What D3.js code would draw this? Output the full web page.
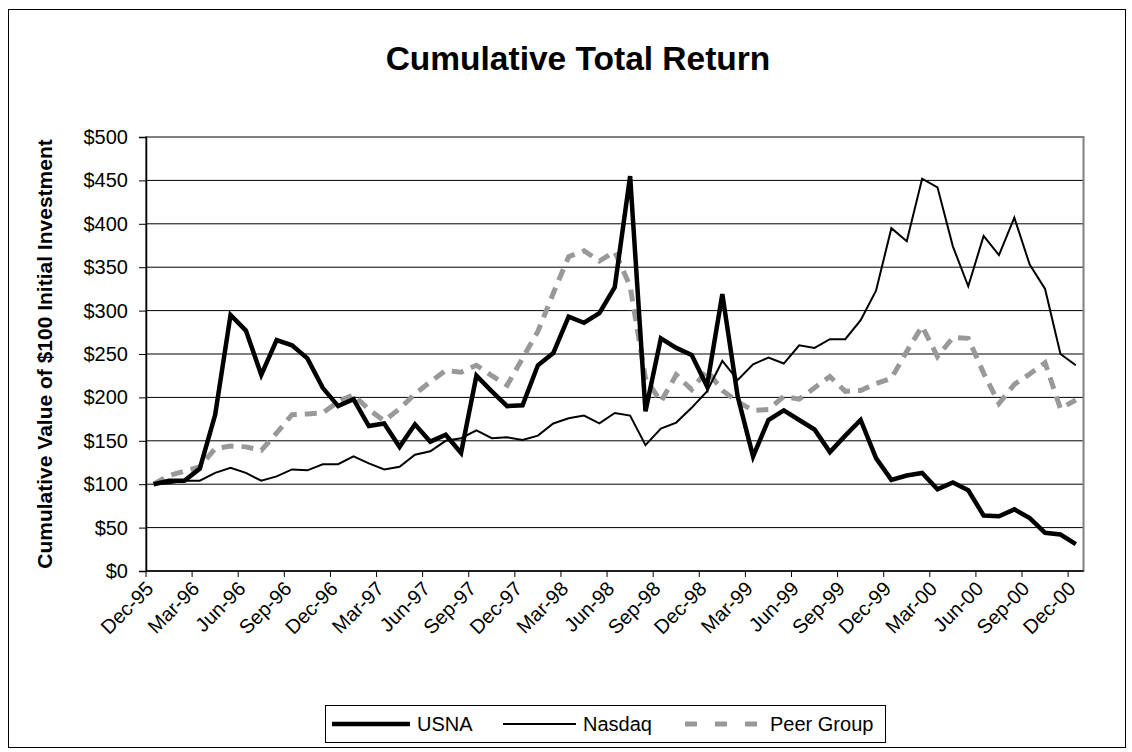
<!DOCTYPE html>
<html>
<head>
<meta charset="utf-8">
<script src="https://cdn.jsdelivr.net/npm/d3@7"></script>
<style>
  html, body { margin: 0; padding: 0; background: #fff; }
  svg { display: block; font-family: 'Liberation Sans', Arial, sans-serif; }
</style>
</head>
<body>
<svg id="chart" width="1132" height="752"></svg>
<script>
// Month categories (Dec-95 .. Dec-00)
const months = [
  'Dec-95',
  'Jan-96', 'Feb-96', 'Mar-96', 'Apr-96', 'May-96', 'Jun-96', 'Jul-96', 'Aug-96', 'Sep-96', 'Oct-96', 'Nov-96', 'Dec-96',
  'Jan-97', 'Feb-97', 'Mar-97', 'Apr-97', 'May-97', 'Jun-97', 'Jul-97', 'Aug-97', 'Sep-97', 'Oct-97', 'Nov-97', 'Dec-97',
  'Jan-98', 'Feb-98', 'Mar-98', 'Apr-98', 'May-98', 'Jun-98', 'Jul-98', 'Aug-98', 'Sep-98', 'Oct-98', 'Nov-98', 'Dec-98',
  'Jan-99', 'Feb-99', 'Mar-99', 'Apr-99', 'May-99', 'Jun-99', 'Jul-99', 'Aug-99', 'Sep-99', 'Oct-99', 'Nov-99', 'Dec-99',
  'Jan-00', 'Feb-00', 'Mar-00', 'Apr-00', 'May-00', 'Jun-00', 'Jul-00', 'Aug-00', 'Sep-00', 'Oct-00', 'Nov-00', 'Dec-00'
];

// Series values
const usna = [
  100, 104, 104, 118, 180, 295, 277, 226, 266, 260,
  245, 211, 190, 198, 167, 170, 143, 169, 149, 157,
  136, 225, 207, 190, 191, 237, 251, 293, 286, 297,
  327, 455, 184, 268, 257, 249, 213, 319, 201, 132,
  174, 185, 174, 163, 137, 156, 174, 130, 105, 110,
  113, 94, 102, 93, 64, 63, 71, 61, 44, 42, 31
];
const nasdaq = [
  100, 101, 104, 104, 113, 119, 113, 104, 109, 117,
  116, 123, 123, 132, 124, 117, 120, 134, 138, 150,
  153, 162, 153, 154, 151, 156, 170, 176, 179, 170,
  182, 179, 145, 164, 171, 188, 207, 242, 220, 238,
  246, 239, 260, 257, 267, 267, 289, 323, 395, 380,
  452, 442, 374, 328, 386, 364, 407, 353, 325, 250, 237
];
const peer = [
  100, 110, 115, 120, 141, 144, 143, 139, 159, 180,
  181, 182, 195, 203, 186, 173, 187, 204, 218, 231,
  229, 237, 225, 214, 245, 276, 320, 362, 369, 357,
  368, 328, 222, 195, 226, 209, 231, 208, 195, 185,
  186, 201, 198, 211, 224, 207, 208, 216, 222, 253,
  282, 247, 269, 268, 228, 193, 215, 227, 240, 187, 197
];

const yTicks = [0, 50, 100, 150, 200, 250, 300, 350, 400, 450, 500];

const series = [
  { name: 'USNA', values: usna, color: '#000', width: 4.5, dash: null, legendDash: null },
  { name: 'Nasdaq', values: nasdaq, color: '#000', width: 2, dash: null, legendDash: null },
  { name: 'Peer Group', values: peer, color: '#999', width: 5, dash: '12,8', legendDash: '12,18' }
];

const svg = d3.select('#chart');

// Outer chart frame
svg.append('rect')
  .attr('x', 8.5)
  .attr('y', 9.5)
  .attr('width', 1117)
  .attr('height', 738)
  .attr('fill', '#fff')
  .attr('stroke', '#000')
  .attr('stroke-width', 1);

// Plot area
const plot = { left: 146, right: 1083.5, top: 137, bottom: 571 };

const x = d3.scaleBand()
  .domain(months)
  .range([plot.left, plot.right])
  .padding(0);

const y = d3.scaleLinear()
  .domain([0, 500])
  .range([plot.bottom, plot.top]);

const cx = (m) => x(m) + x.bandwidth() / 2;

// Gridlines
svg.append('g')
  .selectAll('line')
  .data(yTicks.filter((d) => d > 0 && d < 500))
  .enter()
  .append('line')
  .attr('x1', plot.left)
  .attr('x2', plot.right)
  .attr('y1', (d) => y(d))
  .attr('y2', (d) => y(d))
  .attr('stroke', '#000')
  .attr('stroke-width', 1);

// Plot area border (gray)
svg.append('rect')
  .attr('x', plot.left)
  .attr('y', plot.top)
  .attr('width', plot.right - plot.left)
  .attr('height', plot.bottom - plot.top)
  .attr('fill', 'none')
  .attr('stroke', '#808080')
  .attr('stroke-width', 2);

// Y axis
const yAxis = d3.axisLeft(y)
  .tickValues(yTicks)
  .tickSize(7)
  .tickPadding(11)
  .tickFormat((d) => '$' + d);

const yg = svg.append('g')
  .attr('transform', `translate(${plot.left},0)`)
  .call(yAxis);
yg.select('.domain').attr('stroke', '#000').attr('stroke-width', 1.5);
yg.selectAll('.tick line').attr('stroke', '#000');
yg.selectAll('.tick text')
  .attr('font-size', '20px')
  .attr('font-family', "'Liberation Sans', Arial, sans-serif")
  .attr('fill', '#000');

// X axis: tick marks every 3 months at category boundaries
const tickMonths = months.filter((m, i) => i % 3 === 0);
const xg = svg.append('g');
xg.append('line')
  .attr('x1', plot.left)
  .attr('x2', plot.right)
  .attr('y1', plot.bottom)
  .attr('y2', plot.bottom)
  .attr('stroke', '#000')
  .attr('stroke-width', 1.5);

xg.selectAll('.xtick')
  .data(tickMonths)
  .enter()
  .append('line')
  .attr('class', 'xtick')
  .attr('x1', (d) => x(d))
  .attr('x2', (d) => x(d))
  .attr('y1', plot.bottom)
  .attr('y2', plot.bottom + 6)
  .attr('stroke', '#000')
  .attr('stroke-width', 1);

xg.selectAll('.xlabel')
  .data(tickMonths)
  .enter()
  .append('text')
  .attr('class', 'xlabel')
  .attr('transform', (d) => `translate(${cx(d) - 4},${plot.bottom + 14}) rotate(-45)`)
  .attr('text-anchor', 'end')
  .attr('dominant-baseline', 'central')
  .attr('font-size', '20px')
  .attr('fill', '#000')
  .text((d) => d);

// Lines
const line = d3.line()
  .x((d, i) => cx(months[i]))
  .y((d) => y(d));

// draw order: peer, nasdaq, usna on top
[series[2], series[1], series[0]].forEach((s) => {
  svg.append('path')
    .datum(s.values)
    .attr('d', line)
    .attr('fill', 'none')
    .attr('stroke', s.color)
    .attr('stroke-width', s.width)
    .attr('stroke-linejoin', 'miter')
    .attr('stroke-dasharray', s.dash);
});

// Title
svg.append('text')
  .attr('x', 578)
  .attr('y', 70)
  .attr('text-anchor', 'middle')
  .attr('font-size', '33.5px')
  .attr('font-weight', 'bold')
  .attr('fill', '#000')
  .text('Cumulative Total Return');

// Y axis title
svg.append('text')
  .attr('transform', `translate(52,${(plot.top + plot.bottom) / 2}) rotate(-90)`)
  .attr('text-anchor', 'middle')
  .attr('font-size', '21px')
  .attr('font-weight', 'bold')
  .attr('fill', '#000')
  .text('Cumulative Value of $100 Initial Investment');

// Legend
const legend = svg.append('g');
legend.append('rect')
  .attr('x', 325.5)
  .attr('y', 705.5)
  .attr('width', 560)
  .attr('height', 37)
  .attr('fill', '#fff')
  .attr('stroke', '#000')
  .attr('stroke-width', 1);

const legendItems = [
  { s: series[0], x0: 332, x1: 410, tx: 417 },
  { s: series[1], x0: 503, x1: 576, tx: 583 },
  { s: series[2], x0: 685, x1: 763, tx: 770 }
];

legendItems.forEach((d) => {
  legend.append('line')
    .attr('x1', d.x0)
    .attr('x2', d.x1)
    .attr('y1', 724)
    .attr('y2', 724)
    .attr('stroke', d.s.color)
    .attr('stroke-width', d.s.width)
    .attr('stroke-dasharray', d.s.legendDash);
  legend.append('text')
    .attr('x', d.tx)
    .attr('y', 724)
    .attr('dominant-baseline', 'central')
    .attr('font-size', '20px')
    .attr('fill', '#000')
    .text(d.s.name);
});
</script>
</body>
</html>
